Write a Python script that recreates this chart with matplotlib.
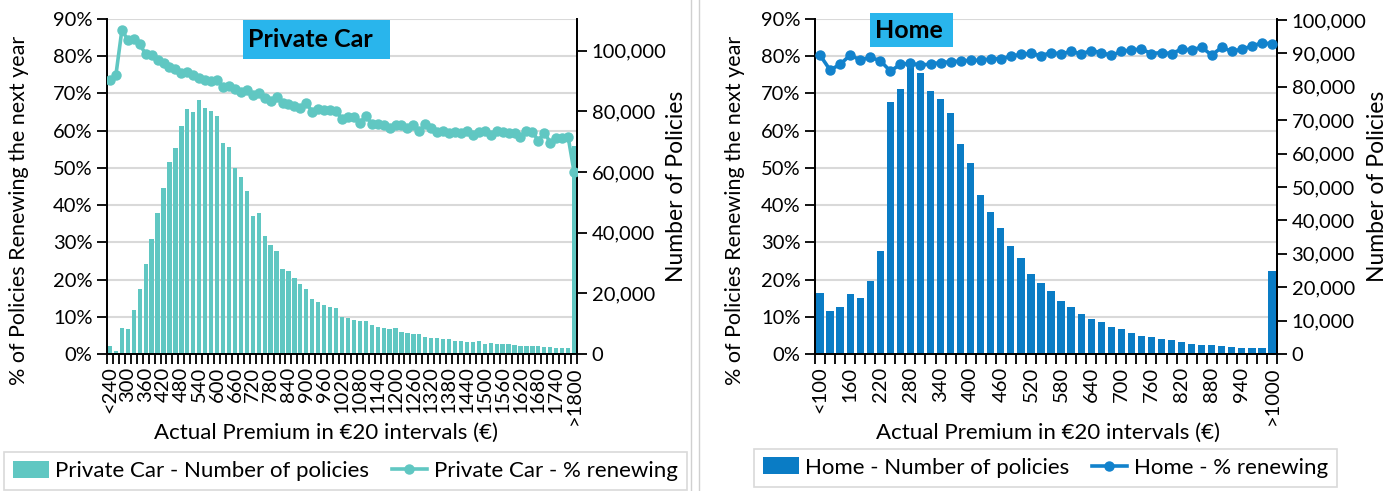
import numpy as np
import matplotlib.pyplot as plt
from matplotlib.patches import Rectangle, Patch
from matplotlib.lines import Line2D
from matplotlib.ticker import FuncFormatter
from matplotlib.transforms import blended_transform_factory

plt.rcParams['font.family'] = ['Lato', 'DejaVu Sans']

# ---- Private car data ----
car_labels = ['<240'] + [str(240 + 20 * k) for k in range(1, 78)] + ['>1800']
car_policies = [2700, 1000, 8500, 8100, 14400, 21300, 29600, 37800, 46400, 54700,
                63300, 68000, 75200, 80700, 79900, 83900, 81000, 80200, 78500, 69600,
                68300, 61300, 58500, 53900, 45500, 46400, 39000, 36000, 34100, 28000,
                27400, 25000, 23000, 21600, 18200, 17300, 16200, 15500, 15200, 12200,
                12000, 11200, 10900, 10900, 9500, 9000, 8500, 8300, 8600, 7200,
                6900, 6600, 6500, 5500, 5400, 5200, 5000, 5000, 4200, 4200,
                4000, 4000, 4300, 3400, 3600, 3400, 3300, 3300, 2900, 2800,
                2700, 2700, 2800, 2300, 2300, 2100, 2000, 1900, 68500]
car_renew = [0.736, 0.750, 0.870, 0.844, 0.845, 0.832, 0.806, 0.803, 0.790, 0.781,
             0.772, 0.766, 0.754, 0.758, 0.750, 0.742, 0.736, 0.733, 0.736, 0.718,
             0.720, 0.711, 0.705, 0.709, 0.696, 0.700, 0.687, 0.681, 0.691, 0.674,
             0.671, 0.666, 0.660, 0.674, 0.651, 0.657, 0.656, 0.656, 0.654, 0.631,
             0.636, 0.638, 0.620, 0.640, 0.618, 0.617, 0.615, 0.606, 0.615, 0.615,
             0.607, 0.615, 0.599, 0.617, 0.606, 0.597, 0.600, 0.595, 0.597, 0.595,
             0.600, 0.588, 0.597, 0.600, 0.588, 0.600, 0.597, 0.593, 0.593, 0.584,
             0.600, 0.597, 0.573, 0.595, 0.568, 0.581, 0.581, 0.584, 0.490]

# ---- Home data ----
home_labels = ['<100'] + [str(100 + 20 * k) for k in range(1, 45)] + ['>1000']
home_policies = [18400, 13000, 14200, 18000, 16700, 21900, 30700, 75400, 79200, 86500,
                 84000, 78700, 76300, 72100, 62900, 57100, 47600, 42400, 37600, 32400,
                 28600, 24000, 21300, 18900, 16000, 14200, 11900, 10600, 9500, 8200,
                 7400, 6200, 5500, 5100, 4600, 4100, 3500, 3000, 2800, 2600,
                 2400, 2100, 1900, 1700, 1700, 24800]
home_renew = [0.803, 0.763, 0.778, 0.803, 0.790, 0.797, 0.788, 0.760, 0.778, 0.781,
              0.776, 0.779, 0.783, 0.785, 0.787, 0.789, 0.789, 0.793, 0.793, 0.800,
              0.805, 0.808, 0.801, 0.810, 0.806, 0.813, 0.806, 0.815, 0.810, 0.802,
              0.813, 0.817, 0.819, 0.807, 0.810, 0.807, 0.819, 0.817, 0.824, 0.803,
              0.824, 0.813, 0.819, 0.827, 0.836, 0.833]

W, H = 1400, 491
fig = plt.figure(figsize=(W / 100, H / 100), dpi=100)


def px_rect(l, t, r, b):
    return [l / W, 1 - b / H, (r - l) / W, (b - t) / H]


pct_ticks = np.arange(0, 0.91, 0.1)
grid_c = '#d9d9d9'


def panel(rect, labels, counts, renew, count_max, count_step, bar_c, line_c,
          ylab_x, y2lab_x, xlab_x):
    ax = fig.add_axes(rect)
    ax2 = ax.twinx()
    ax.set_zorder(2)
    ax2.set_zorder(1)
    ax.patch.set_visible(False)
    n = len(labels)
    x = np.arange(n)
    ax2.bar(x, counts, width=0.72, color=bar_c, zorder=2)
    ax.plot(x, renew, color=line_c, lw=2.6, marker='o', ms=6.5, zorder=3)
    ax.set_xlim(-0.5, n - 0.5)
    ax.set_ylim(0, 0.9)
    ax2.set_ylim(0, count_max)
    # grid in the bar layer, placed by the % axis
    tr = blended_transform_factory(ax2.transAxes, ax.transData)
    for v in pct_ticks[1:]:
        ax2.plot([0, 1], [v, v], color=grid_c, lw=1.5, transform=tr, zorder=0.5)
    ax.set_yticks(pct_ticks)
    ax.yaxis.set_major_formatter(FuncFormatter(lambda v, p: f'{v * 100:.0f}%'))
    ax2.set_yticks(np.arange(0, count_max + 1, count_step))
    ax2.yaxis.set_major_formatter(FuncFormatter(lambda v, p: f'{v:,.0f}'))
    ax.set_xticks(x[::3])
    ax.set_xticklabels(labels[::3], rotation=90)
    ax.set_xticks(np.arange(-0.5, n, 1), minor=True)
    ax.tick_params(axis='x', which='major', length=0, labelsize=14.5, pad=9)
    ax.tick_params(axis='x', which='minor', length=7, width=1.3)
    ax.tick_params(axis='y', length=7, width=1.3, labelsize=14.5)
    ax2.tick_params(axis='y', length=7, width=1.3, labelsize=14.5)
    for a in (ax, ax2):
        a.spines['top'].set_visible(False)
        for s in ('left', 'right', 'bottom'):
            a.spines[s].set_linewidth(1.3)
    ax.set_ylabel('% of Policies Renewing the next year', fontsize=15.5)
    ax.yaxis.set_label_coords(ylab_x, 0.43)
    ax2.set_ylabel('Number of Policies', fontsize=16.5)
    ax2.yaxis.set_label_coords(y2lab_x, 0.5)
    ax.set_xlabel('Actual Premium in €20 intervals (€)', fontsize=16)
    ax.xaxis.set_label_coords(xlab_x, -0.205)
    return ax, ax2


car_bar = '#60c7c2'
home_bar = '#0a7cc5'
panel(px_rect(107, 19, 577, 354), car_labels, car_policies, car_renew,
      110500, 20000, car_bar, car_bar, -0.167, 1.19, 0.465)
panel(px_rect(815, 19, 1277, 354), home_labels, home_policies, home_renew,
      100300, 10000, home_bar, '#1282cc', -0.152, 1.195, 0.505)

# title boxes
title_c = '#29b5ec'
for (l, t, r, b), txt in [((243, 20, 390, 59), 'Private Car'), ((870, 13, 953, 47), 'Home')]:
    x0, y0, w, h = px_rect(l, t, r, b)
    fig.patches.append(Rectangle((x0, y0), w, h, transform=fig.transFigure,
                                 facecolor=title_c, edgecolor='none', zorder=5))
    fig.text(x0 + 5 / W, y0 + h / 2, txt, fontsize=18, fontweight='bold',
             ha='left', va='center', zorder=6)

# separator
for xs in (691, 699):
    fig.add_artist(Line2D([xs / W, xs / W], [0, 1], color='#d0d0d0', lw=1,
                          transform=fig.transFigure))

# legends
for (l, t, r, b), c, lc, name in [((8, 452, 683, 490), car_bar, car_bar, 'Private Car'),
                                  ((723, 447, 1368, 488), home_bar, '#1282cc', 'Home')]:
    handles = [Patch(facecolor=c, edgecolor='none'),
               Line2D([], [], color=lc, lw=2.6, marker='o', ms=6.5)]
    leg = fig.legend(handles, [f'{name} - Number of policies', f'{name} - % renewing'],
                     bbox_to_anchor=px_rect(l, t, r, b), loc='center', ncol=2,
                     fontsize=16, frameon=True, fancybox=False, handlelength=1.6,
                     handleheight=0.8, handletextpad=0.3, columnspacing=1.0,
                     borderaxespad=0)
    leg.get_frame().set_edgecolor('#d0d0d0')
    leg.get_frame().set_linewidth(1.2)

fig.savefig('out.png', dpi=100)
